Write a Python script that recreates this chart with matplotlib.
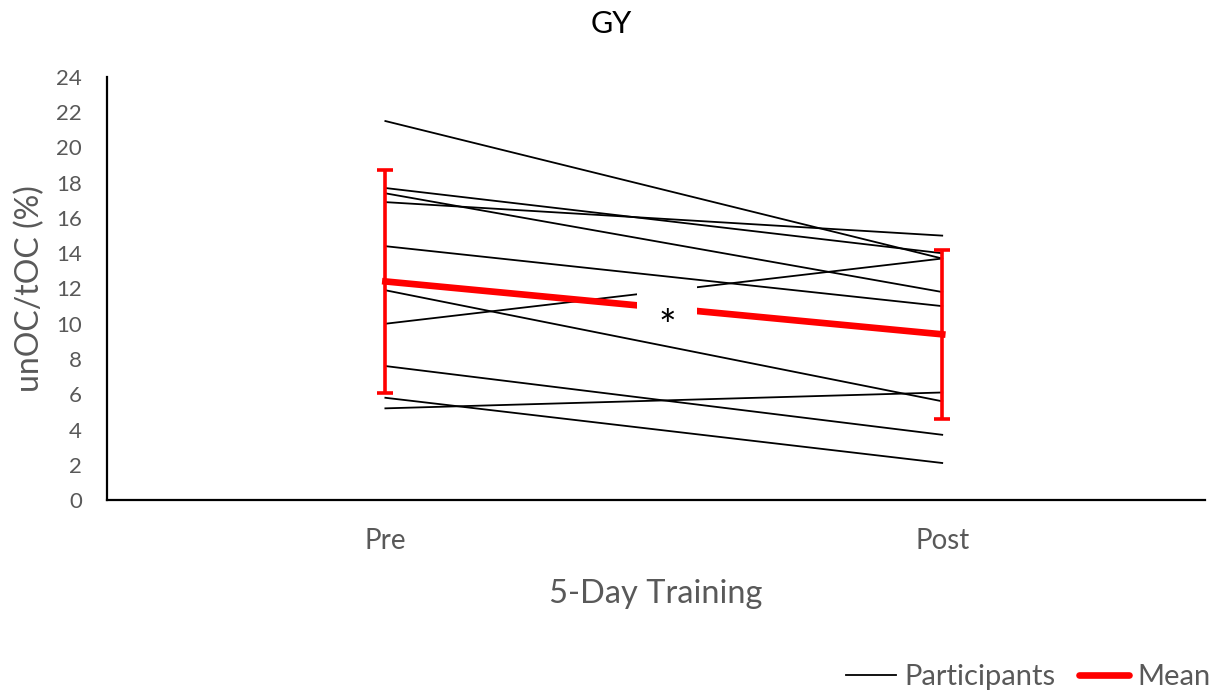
import matplotlib.pyplot as plt
from matplotlib.patches import Rectangle

# dados
fases = ['Pre', 'Post']
pre = [21.5, 17.7, 17.4, 16.9, 14.4, 11.9, 10.0, 7.6, 5.8, 5.2]
post = [13.7, 14.0, 11.8, 15.0, 11.0, 5.6, 13.7, 3.7, 2.1, 6.1]
media = [12.4, 9.4]
dp = [6.35, 4.8]

plt.rcParams['font.family'] = ['Lato', 'DejaVu Sans']
cinza = '#595959'

fig = plt.figure(figsize=(12.28, 6.96), dpi=100)
ax = fig.add_axes([0.0871, 0.2816, 0.8942, 0.6078])

xs = range(len(fases))
for a, b in zip(pre, post):
    ax.plot(xs, [a, b], color='black', lw=1.3, zorder=2)

ax.errorbar(xs, media, yerr=dp, color='#ff0000', lw=4.8, elinewidth=2.6,
            capsize=6, capthick=2.6, zorder=3)

# caixa branca com asterisco (diferenca significativa)
ax.add_patch(Rectangle((0.452, 9.2), 0.108, 2.95, fc='white', ec='none', zorder=4))
ax.text(0.506, 9.75, '*', ha='center', va='center', fontsize=30,
        color='black', zorder=5)

ax.set_xlim(-0.5, 1.472)
ax.set_ylim(0, 24)
ax.set_yticks(range(0, 25, 2))
ax.set_xticks(list(xs))
ax.set_xticklabels(fases)
ax.tick_params(axis='both', length=0, colors=cinza)
ax.tick_params(axis='y', labelsize=16, pad=18)
ax.tick_params(axis='x', labelsize=20, pad=20)
for s in ['top', 'right']:
    ax.spines[s].set_visible(False)
for s in ['left', 'bottom']:
    ax.spines[s].set_linewidth(1.6)

ax.set_ylabel('unOC/tOC (%)', fontsize=23, color=cinza, labelpad=8)
ax.set_xlabel('5-Day Training', fontsize=23.5, color=cinza, labelpad=18)
fig.text(0.4976, 0.966, 'GY', ha='center', va='center', fontsize=22)

h1, = ax.plot([], [], color='black', lw=1.3, label='Participants')
h2, = ax.plot([], [], color='#ff0000', lw=4.8, label='Mean', solid_capstyle='round')
fig.legend(handles=[h1, h2], loc='center right', bbox_to_anchor=(0.986, 0.027),
           ncol=2, frameon=False, fontsize=21, labelcolor=cinza,
           handlelength=1.7, handletextpad=0.3, columnspacing=0.8,
           borderpad=0, borderaxespad=0)

fig.savefig('out.png', dpi=100)
